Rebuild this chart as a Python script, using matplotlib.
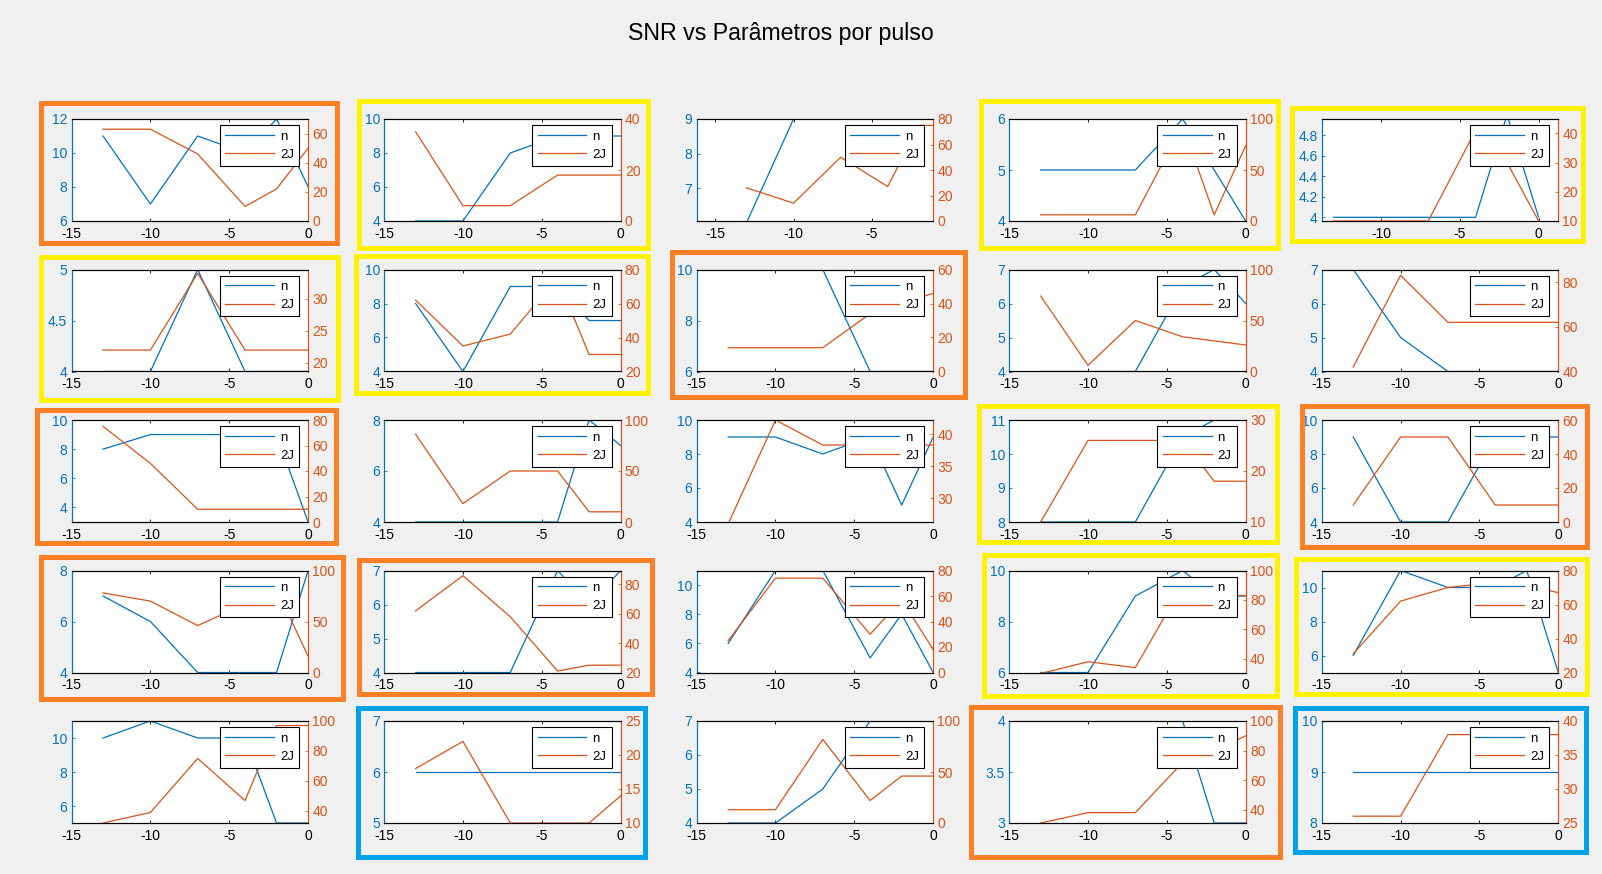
import matplotlib.pyplot as plt
from matplotlib.patches import Rectangle

plt.rcParams['font.family'] = ['Liberation Sans', 'DejaVu Sans']
plt.rcParams['axes.unicode_minus'] = False

# pulse positions (same for every panel)
x = [-13, -10, -7, -4, -2, 0]

# n (left axis), one list per panel, row by row
n_vals = [
    [11, 7, 11, 10, 12, 8], [4, 4, 8, 9, 9, 9], [6, 9, 9, 9, 9, 9], [5, 5, 5, 6, 5, 4], [4, 4, 4, 4, 5, 4],
    [4, 4, 5, 4, 4, 4], [8, 4, 9, 9, 7, 7], [10, 10, 10, 6, 6, 6], [4, 4, 4, 6.5, 7, 6], [7, 5, 4, 4, 4, 4],
    [8, 9, 9, 9, 9, 3], [4, 4, 4, 4, 8, 7], [9, 9, 8, 9, 5, 9], [8, 8, 8, 10.5, 11, 11], [9, 4, 4, 9, 9, 9],
    [7, 6, 4, 4, 4, 8], [4, 4, 4, 7, 6, 7], [6, 11, 11, 5, 8, 4], [6, 6, 9, 10, 9, 9], [6, 11, 10, 10, 11, 5],
    [10, 11, 10, 10, 5, 5], [6, 6, 6, 6, 6, 6], [4, 4, 5, 7, 7, 7], [4, 4, 4, 4, 3, 3], [9, 9, 9, 9, 9, 9],
]

# 2J (right axis)
j_vals = [
    [63, 63, 46, 10, 22, 50], [35, 6, 6, 18, 18, 18], [26, 14, 50, 27, 75, 75], [6, 6, 6, 94, 6, 74], [10, 10, 10, 41, 30, 10],
    [22, 22, 34, 22, 22, 22], [62, 35, 42, 75, 30, 30], [14, 14, 14, 34, 40, 46], [74, 6, 50, 34, 30, 26], [42, 83, 62, 62, 62, 62],
    [75, 46, 10, 10, 10, 10], [86, 18, 50, 50, 10, 10], [26, 42.2, 38.3, 38.3, 38.3, 38.3], [10, 26, 26, 26, 18, 18], [10, 50, 50, 10, 10, 10],
    [78, 70, 46, 67, 82, 16], [62, 86, 58, 21, 25, 25], [25, 74, 74, 30, 57, 18], [30, 38, 34, 90, 83, 83], [31, 62, 70, 73, 71, 67],
    [32, 39, 75, 47, 97, 97], [18, 22, 10, 10, 10, 14], [13, 13, 82, 22, 46, 46], [31, 38, 38, 72, 80, 90], [26, 26, 38, 38, 38, 38],
]

# axis limits as shown in each panel
n_lims = [
    (6, 12), (4, 10), (6.05, 9), (4, 6), (3.964, 4.96),
    (4, 5), (4, 10), (6, 10), (4, 7), (4, 7),
    (3, 10), (4, 8), (4, 10), (8, 11), (4, 10),
    (4, 8), (4, 7), (4, 11), (6, 10), (5, 11),
    (5, 11), (5, 7), (4, 7), (3, 4), (8, 10),
]
j_lims = [
    (0, 70), (0, 40), (0, 80), (0, 100), (10, 44.9),
    (18.65, 34.6), (20, 80), (0, 60), (0, 100), (40, 85.6),
    (0, 80), (0, 100), (26.3, 42.2), (10, 30), (0, 60),
    (0, 100), (20, 89.5), (0, 80), (30.7, 100), (20, 80),
    (32, 100), (10, 25), (0, 100), (31, 100), (25, 40),
]
x_lims = {2: (-16.18, -1.1), 4: (-13.76, 1.25)}

n_ticks = [
    [6, 8, 10, 12], [4, 6, 8, 10], [7, 8, 9], [4, 5, 6], [4, 4.2, 4.4, 4.6, 4.8],
    [4, 4.5, 5], [4, 6, 8, 10], [6, 8, 10], [4, 5, 6, 7], [4, 5, 6, 7],
    [4, 6, 8, 10], [4, 6, 8], [4, 6, 8, 10], [8, 9, 10, 11], [4, 6, 8, 10],
    [4, 6, 8], [4, 5, 6, 7], [4, 6, 8, 10], [6, 8, 10], [6, 8, 10],
    [6, 8, 10], [5, 6, 7], [4, 5, 6, 7], [3, 3.5, 4], [8, 9, 10],
]
j_ticks = [
    [0, 20, 40, 60], [0, 20, 40], [0, 20, 40, 60, 80], [0, 50, 100], [10, 20, 30, 40],
    [20, 25, 30], [20, 40, 60, 80], [0, 20, 40, 60], [0, 50, 100], [40, 60, 80],
    [0, 20, 40, 60, 80], [0, 50, 100], [30, 35, 40], [10, 20, 30], [0, 20, 40, 60],
    [0, 50, 100], [20, 40, 60, 80], [0, 20, 40, 60, 80], [40, 60, 80, 100], [20, 40, 60, 80],
    [40, 60, 80, 100], [10, 15, 20, 25], [0, 50, 100], [40, 60, 80, 100], [25, 30, 35, 40],
]

# hand-drawn highlight boxes: (x0, y0, x1, y1) in pixels, colour
frames = [
    ((38.7, 101, 339.2, 245.7), '#FF7F27'), ((356.6, 99, 650, 250), '#FFF200'),
    ((978, 98.3, 1280, 250), '#FFF200'), ((1289, 105.7, 1585.3, 243.3), '#FFF200'),
    ((38.7, 254, 340, 402.3), '#FFF200'), ((353.4, 253.3, 650, 395.7), '#FFF200'),
    ((669.4, 249, 967.3, 399), '#FF7F27'),
    ((34.7, 407.7, 338.4, 545), '#FF7F27'), ((976.7, 403.3, 1279, 544), '#FFF200'),
    ((1299.3, 403.3, 1589.3, 549), '#FF7F27'),
    ((38, 554.3, 345.5, 701.7), '#FF7F27'), ((356.6, 557.7, 654, 696.7), '#FF7F27'),
    ((981.7, 552.3, 1279.9, 698.3), '#FFF200'), ((1293.4, 556.7, 1589, 696.7), '#FFF200'),
    ((355, 705, 647, 859.7), '#00A2E8'), ((968, 704.3, 1282, 859.7), '#FF7F27'),
    ((1292, 705.7, 1588, 854.3), '#00A2E8'),
]

W, H = 1602, 874
BLUE = '#0072BD'
ORANGE = '#D95319'

fig = plt.figure(figsize=(W / 100, H / 100), dpi=100)
fig.patch.set_facecolor('#f0f0f0')

axw, axh = 236.6, 102
for k in range(25):
    r, c = divmod(k, 5)
    left = 71.5 + c * 312.55
    top = 119 + r * 150.5
    ax = fig.add_axes([left / W, 1 - (top + axh) / H, axw / W, axh / H])
    ax2 = ax.twinx()

    l1, = ax.plot(x, n_vals[k], color=BLUE, lw=0.9)
    l2, = ax2.plot(x, j_vals[k], color=ORANGE, lw=0.9)

    xl = x_lims.get(k, (-15, 0))
    ax.set_xlim(*xl)
    ax.set_xticks([t for t in [-15, -10, -5, 0] if xl[0] <= t <= xl[1]])
    ax.set_ylim(*n_lims[k])
    ax.set_yticks(n_ticks[k])
    ax.set_yticklabels([f'{t:g}' for t in n_ticks[k]])
    ax2.set_ylim(*j_lims[k])
    ax2.set_yticks(j_ticks[k])

    for a in (ax, ax2):
        for s in a.spines.values():
            s.set_linewidth(0.8)
            s.set_color('black')
        a.spines['left'].set_color(BLUE)
        a.spines['right'].set_color(ORANGE)

    ax.tick_params(axis='x', direction='in', length=2.5, width=0.6, labelsize=10, pad=4, top=True)
    ax.tick_params(axis='y', direction='in', length=2.5, width=0.6, labelsize=10, pad=3,
                   colors=BLUE)
    ax2.tick_params(axis='y', direction='in', length=2.5, width=0.6, labelsize=10, pad=3,
                    colors=ORANGE)

    leg = ax2.legend([l1, l2], ['n', '2J'], loc='upper right',
                     bbox_to_anchor=(1 - 9 / axw, 1 - 6 / axh), borderaxespad=0,
                     fontsize=9.5, handlelength=3.7, handletextpad=0.45, labelspacing=0.45,
                     borderpad=0.4, fancybox=False, framealpha=1, edgecolor='black')
    leg.get_frame().set_linewidth(0.8)

lw_px = 5
for (x0, y0, x1, y1), col in frames:
    h = lw_px / 2
    fig.add_artist(Rectangle(((x0 + h) / W, 1 - (y1 - h) / H), (x1 - x0 - lw_px) / W,
                             (y1 - y0 - lw_px) / H, transform=fig.transFigure,
                             fill=False, edgecolor=col, linewidth=lw_px * 0.72))

fig.text(0.4873, 0.9614, 'SNR vs Parâmetros por pulso', ha='center', va='center', fontsize=16.7)

fig.savefig('out.png', dpi=100, facecolor=fig.get_facecolor())
